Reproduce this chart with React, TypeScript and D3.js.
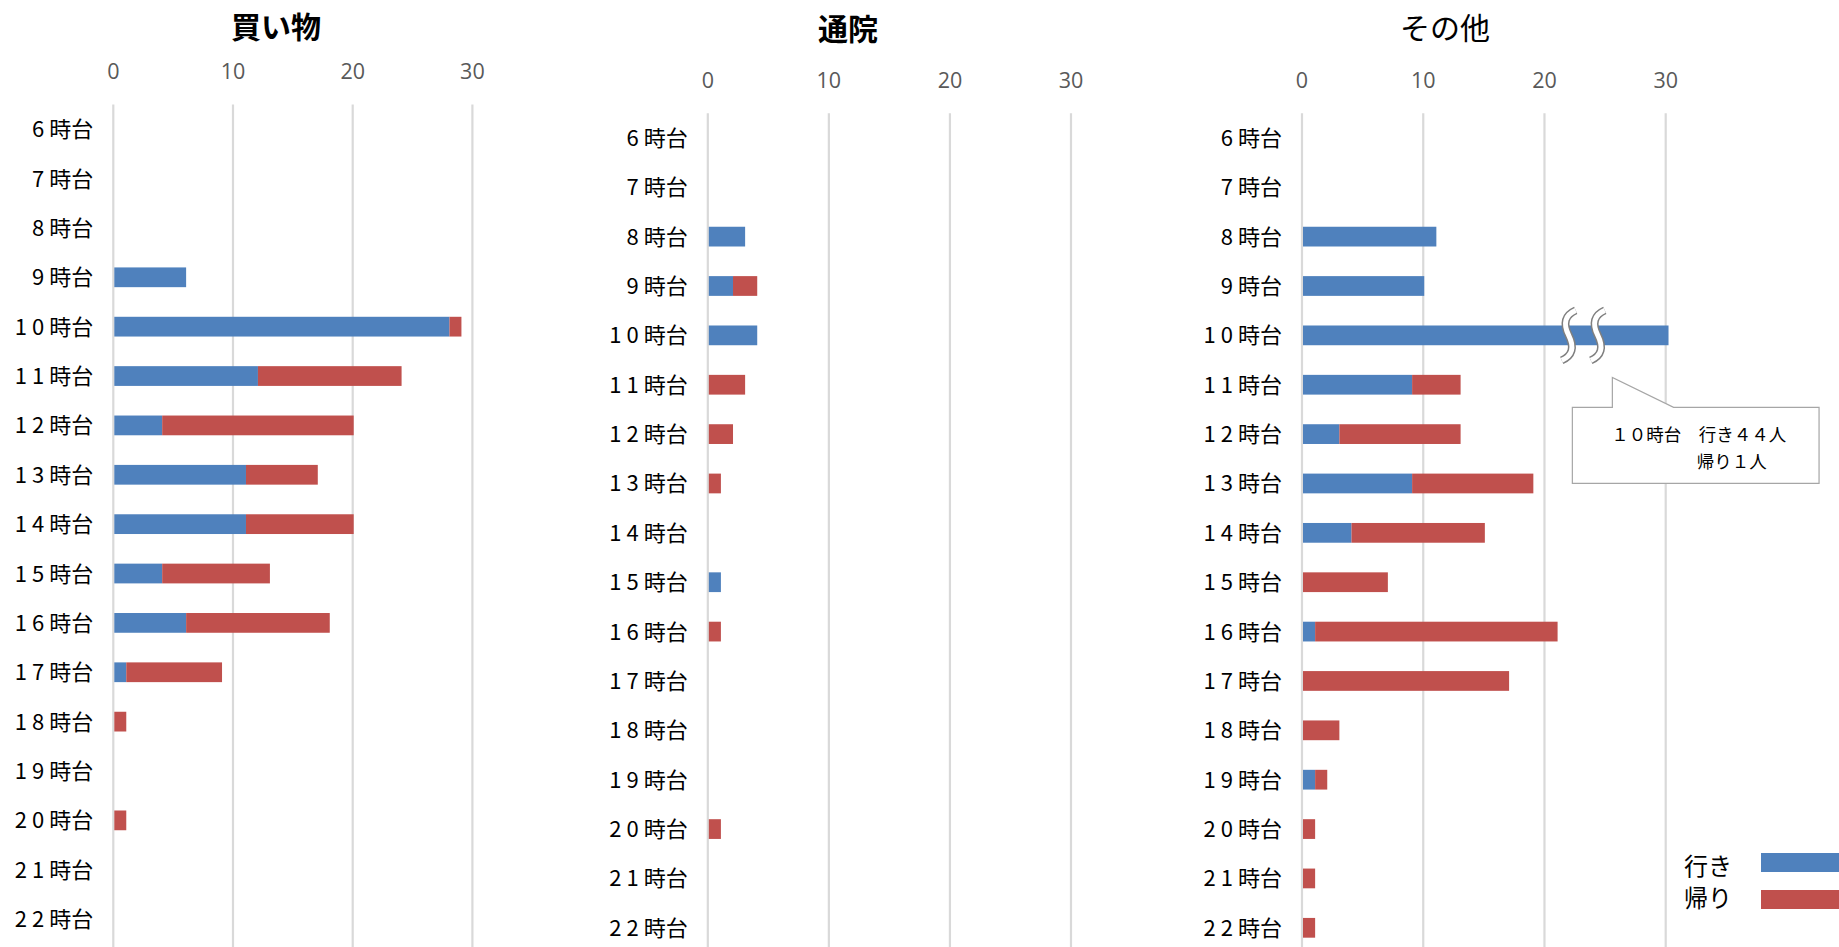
import React from "react";
import * as d3 from "d3";

// 時間帯
const hours = [
  "6時台", "7時台", "8時台", "9時台", "10時台", "11時台", "12時台", "13時台", "14時台",
  "15時台", "16時台", "17時台", "18時台", "19時台", "20時台", "21時台", "22時台",
];

const shoppingGo = [0, 0, 0, 6, 28, 12, 4, 11, 11, 4, 6, 1, 0, 0, 0, 0, 0];
const shoppingBack = [0, 0, 0, 0, 1, 12, 16, 6, 9, 9, 12, 8, 1, 0, 1, 0, 0];
const hospitalGo = [0, 0, 3, 2, 4, 0, 0, 0, 0, 1, 0, 0, 0, 0, 0, 0, 0];
const hospitalBack = [0, 0, 0, 2, 0, 3, 2, 1, 0, 0, 1, 0, 0, 0, 1, 0, 0];
const otherGo = [0, 0, 11, 10, 44, 9, 3, 9, 4, 0, 1, 0, 0, 1, 0, 0, 0];
const otherBack = [0, 0, 0, 0, 1, 4, 10, 10, 11, 7, 20, 17, 3, 1, 1, 1, 1];

const ticks = [0, 10, 20, 30];
const seriesNames = ["行き", "帰り"];
const calloutLines = ["１０時台　行き４４人", "帰り１人"];

const W = 1839;
const H = 947;
const BLUE = "#4f81bd";
const RED = "#c0504d";
const GRID = "#d9d9d9";
const STEP = 49.37;
const JP = "'Noto Sans CJK JP', 'Noto Sans', sans-serif";

type Panel = {
  title: string;
  go: number[];
  back: number[];
  x0: number;
  x30: number;
  top: number;
  titleX: number;
  titleY: number;
  bold: boolean;
  cap?: number;
};

const panels: Panel[] = [
  { title: "買い物", go: shoppingGo, back: shoppingBack, x0: 113.3, x30: 472.4, top: 104.5, titleX: 276, titleY: 25, bold: true },
  { title: "通院", go: hospitalGo, back: hospitalBack, x0: 707.8, x30: 1071, top: 113.2, titleX: 848, titleY: 26.5, bold: true },
  { title: "その他", go: otherGo, back: otherBack, x0: 1302, x30: 1665.7, top: 113.2, titleX: 1445, titleY: 26, bold: false, cap: 30.15 },
];

// 波線（省略記号）
function breakPath(cx: number, cy: number) {
  return `M${cx + 7},${cy - 25} Q${cx - 9},${cy - 18} ${cx},${cy} Q${cx + 9},${cy + 18} ${cx - 7},${cy + 25}`;
}

function makeY(p: Panel) {
  return d3
    .scaleBand<string>()
    .domain(hours)
    .range([p.top, p.top + STEP * hours.length])
    .paddingInner(0.6)
    .paddingOuter(0.3);
}

function ChartPanel({ p }: { p: Panel }) {
  const x = d3.scaleLinear().domain([0, 30]).range([p.x0, p.x30]);
  const y = makeY(p);
  const cap = p.cap ?? Infinity;
  const bh = y.bandwidth();

  const rows = hours.map((h, i) => {
    const g = p.go[i];
    const b = p.back[i];
    return {
      h,
      num: h.replace("時台", ""),
      go: [0, Math.min(g, cap)],
      back: [Math.min(g, cap), Math.min(g + b, cap)],
    };
  });

  return (
    <g>
      <text
        x={p.titleX}
        y={p.titleY}
        textAnchor="middle"
        dominantBaseline="central"
        fontFamily={JP}
        fontSize={30}
        fontWeight={p.bold ? 700 : 400}
        fill="#000"
      >
        {p.title}
      </text>
      {ticks.map((t) => (
        <g key={t}>
          <line x1={x(t)} x2={x(t)} y1={p.top} y2={H} stroke={GRID} strokeWidth={2.2} />
          <text
            x={x(t)}
            y={p.top - 25.5}
            textAnchor="middle"
            fontFamily="'Open Sans', 'Noto Sans', sans-serif"
            fontSize={21.5}
            fill="#595959"
          >
            {t}
          </text>
        </g>
      ))}
      {rows.map((r) => (
        <g key={r.h}>
          <text
            x={p.x0 - 20}
            y={(y(r.h) ?? 0) + bh / 2 - 2}
            textAnchor="end"
            dominantBaseline="central"
            fontFamily={JP}
            fontSize={22}
            fill="#000"
          >
            <tspan letterSpacing={5}>{r.num}</tspan>
            <tspan>時台</tspan>
          </text>
          {r.go[1] > r.go[0] && (
            <rect x={x(r.go[0]) + 1} y={y(r.h)} width={x(r.go[1]) - x(r.go[0])} height={bh} fill={BLUE} />
          )}
          {r.back[1] > r.back[0] && (
            <rect x={x(r.back[0]) + 1} y={y(r.h)} width={x(r.back[1]) - x(r.back[0])} height={bh} fill={RED} />
          )}
        </g>
      ))}
    </g>
  );
}

function Annotation() {
  const p = panels[2];
  const x = d3.scaleLinear().domain([0, 30]).range([p.x0, p.x30]);
  const y = makeY(p);
  const row = "10時台";
  const cy = (y(row) ?? 0) + y.bandwidth() / 2;
  const marks = [22, 24.4];

  const tipX = x(25.6);
  const tipY = cy + 42;
  const boxL = x(22.3);
  const boxR = x(42.65);
  const boxT = tipY + 30;
  const boxB = boxT + 76;
  const baseR = x(30.65);
  const outline = `M${boxL},${boxT} L${tipX},${boxT} L${tipX},${tipY} L${baseR},${boxT} L${boxR},${boxT} L${boxR},${boxB} L${boxL},${boxB} Z`;

  return (
    <g>
      {marks.map((m) => (
        <g key={m}>
          <path d={breakPath(x(m), cy)} fill="none" stroke="#7f7f7f" strokeWidth={8} />
          <path d={breakPath(x(m), cy)} fill="none" stroke="#fff" strokeWidth={5} />
        </g>
      ))}
      <path d={outline} fill="#fff" stroke="#a6a6a6" strokeWidth={1.2} />
      <text x={tipX - 1} y={boxT + 26} dominantBaseline="central" fontFamily={JP} fontSize={17.5} fill="#000">
        {calloutLines[0]}
      </text>
      <text x={tipX - 1 + 17.5 * 5 - 2} y={boxT + 53} dominantBaseline="central" fontFamily={JP} fontSize={17.5} fill="#000">
        {calloutLines[1]}
      </text>
    </g>
  );
}

function Legend() {
  const colors = [BLUE, RED];
  return (
    <g>
      {seriesNames.map((s, i) => (
        <g key={s}>
          <text x={1684} y={864 + i * 32} dominantBaseline="central" fontFamily={JP} fontSize={24} fill="#000">
            {s}
          </text>
          <rect x={1761} y={853 + i * 37} width={80} height={19} fill={colors[i]} />
        </g>
      ))}
    </g>
  );
}

export default function App() {
  return (
    <svg
      width={W}
      height={H}
      viewBox={`0 0 ${W} ${H}`}
      style={{ position: "absolute", left: 0, top: 0, background: "#fff" }}
    >
      <rect width={W} height={H} fill="#fff" />
      {panels.map((p) => (
        <ChartPanel key={p.title} p={p} />
      ))}
      <Annotation />
      <Legend />
    </svg>
  );
}
